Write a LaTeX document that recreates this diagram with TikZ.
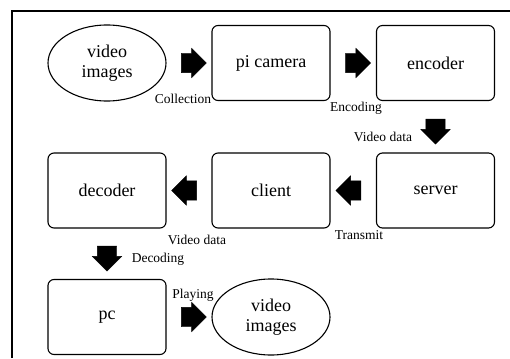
\documentclass[tikz,border=0pt]{standalone}
\usepackage{fontspec}
\setmainfont{Liberation Serif}
\usetikzlibrary{shapes.geometric,shapes.arrows,calc}
\tikzstyle{block}=[rectangle,rounded corners=6pt,draw,line width=1.1pt,minimum width=118pt,minimum height=75pt,inner sep=0pt,font=\fontsize{18}{20}\selectfont]
\tikzstyle{oval}=[ellipse,draw,line width=1.1pt,minimum width=118pt,minimum height=76pt,inner sep=0pt,align=center,font=\fontsize{18}{20}\selectfont]
\tikzstyle{bigarrow}=[single arrow,fill=black,draw=black,minimum height=25pt,inner xsep=0pt,inner ysep=9.5pt,single arrow head extend=5pt]
\tikzstyle{caption}=[font=\fontsize{13.5}{14}\selectfont,inner sep=0pt]
\begin{document}
\begin{tikzpicture}[x=1pt,y=-1pt]
    \useasboundingbox (0,0) rectangle (510,358);
    \draw[line width=1.2pt] (12,358) -- (12,11) -- (510,11);

    \foreach \pos/\name/\lbl in {{(271,63)/cam/pi camera},{(435.5,63)/enc/encoder},
        {(435.5,190.5)/srv/server},{(271,190.5)/cli/client},{(107,190.5)/dec/decoder},{(107,317)/pc/pc}}
        \node[block] (\name) at \pos {\lbl};

    \node[oval] (src) at (107,63) {video\\images};
    \node[oval] (dst) at (271,317) {video\\images};

    % block arrows half way between the nodes
    \foreach \a/\b/\rot in {src/cam/0, cam/enc/0, enc/srv/-90, srv/cli/180, cli/dec/180, dec/pc/-90, pc/dst/0}
        \node[bigarrow,rotate=\rot] (\a-\b) at ($(\a)!0.5!(\b)$) {};

    \node[caption] (collect) at (183,99) {Collection};
    \node[caption] (encode) at (356,108) {Encoding};
    \node[caption] (data1) at (383,137) {Video data};
    \node[caption] (trans) at (359,235) {Transmit};
    \node[caption] (data2) at (197,240) {Video data};
    \node[caption] (decode) at (158,259) {Decoding};
    \node[caption] (play) at (193,295) {Playing};
\end{tikzpicture}
\end{document}
